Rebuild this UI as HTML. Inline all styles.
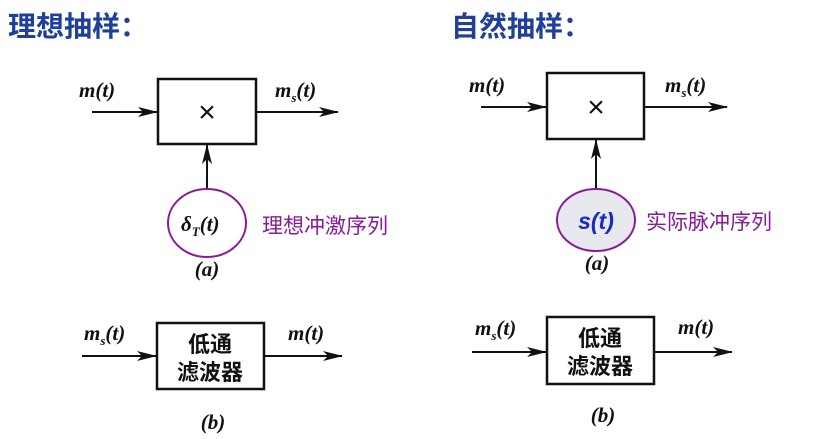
<!DOCTYPE html>
<html><head><meta charset="utf-8"><style>
html,body{margin:0;padding:0;background:#fff;width:828px;height:439px;overflow:hidden}
svg{display:block}
.t{font-family:"Liberation Serif",serif;font-style:italic;font-weight:bold;font-size:21px;fill:#111}
.cn{font-family:"Liberation Sans","Noto Sans CJK SC",sans-serif}
</style></head><body>
<svg width="828" height="439" viewBox="0 0 828 439" xmlns="http://www.w3.org/2000/svg">
<defs><marker id="ar" markerWidth="20" markerHeight="10" refX="19" refY="5" orient="auto" markerUnits="userSpaceOnUse"><path d="M0,0 L20,5 L0,10 L5,5 Z" fill="#111"/></marker></defs>
<text x="8" y="36" class="cn" font-size="28" font-weight="bold" fill="#1f3f9a">理想抽样：</text>
<text x="451" y="36" class="cn" font-size="28" font-weight="bold" fill="#1f3f9a">自然抽样：</text>
<g stroke="#111" stroke-width="2" fill="none">
<rect x="158" y="79" width="98" height="65" stroke-width="2.5"/>
<line x1="92" y1="112" x2="157" y2="112" marker-end="url(#ar)"/>
<line x1="256" y1="112" x2="338" y2="112" marker-end="url(#ar)"/>
<line x1="207" y1="200" x2="207" y2="145" marker-end="url(#ar)"/>
<rect x="547" y="73" width="97" height="66" stroke-width="2.5"/>
<line x1="481" y1="107" x2="546" y2="107" marker-end="url(#ar)"/>
<line x1="644" y1="107" x2="727" y2="107" marker-end="url(#ar)"/>
<line x1="596" y1="192" x2="596" y2="140" marker-end="url(#ar)"/>
<rect x="157" y="323" width="107" height="66" stroke-width="2.5"/>
<line x1="82" y1="356" x2="156" y2="356" marker-end="url(#ar)"/>
<line x1="264" y1="356" x2="342" y2="356" marker-end="url(#ar)"/>
<rect x="547" y="317" width="107" height="67" stroke-width="2.5"/>
<line x1="472" y1="352" x2="546" y2="352" marker-end="url(#ar)"/>
<line x1="654" y1="352" x2="732" y2="352" marker-end="url(#ar)"/>
</g>
<ellipse cx="207" cy="223" rx="39" ry="34" fill="#fff" stroke="#8a1a9a" stroke-width="2"/>
<ellipse cx="596" cy="220" rx="39" ry="31" fill="#e8e8ef" stroke="#8a1a9a" stroke-width="2"/>
<text x="207" y="122" text-anchor="middle" font-family="Liberation Sans" font-size="30" fill="#111">×</text>
<text x="596" y="117" text-anchor="middle" font-family="Liberation Sans" font-size="30" fill="#111">×</text>
<text x="79" y="97" class="t">m(t)</text>
<text x="275" y="97" class="t">m<tspan font-size="13" dy="5">s</tspan><tspan dy="-5">(t)</tspan></text>
<text x="469" y="92" class="t">m(t)</text>
<text x="665" y="92" class="t">m<tspan font-size="13" dy="5">s</tspan><tspan dy="-5">(t)</tspan></text>
<text x="181" y="231" class="t">δ<tspan font-size="13" dy="5">T</tspan><tspan dy="-5">(t)</tspan></text>
<text x="596" y="229" text-anchor="middle" font-family="Liberation Sans" font-weight="bold" font-style="italic" font-size="23" fill="#1a2bc0">s(t)</text>
<text x="262" y="233" class="cn" font-size="21" fill="#8a1a9a">理想冲激序列</text>
<text x="646" y="229" class="cn" font-size="21" fill="#8a1a9a">实际脉冲序列</text>
<text x="207" y="276" text-anchor="middle" class="t" font-weight="normal" font-size="20">(a)</text>
<text x="597" y="270" text-anchor="middle" class="t" font-weight="normal" font-size="20">(a)</text>
<text x="84" y="340" class="t">m<tspan font-size="13" dy="5">s</tspan><tspan dy="-5">(t)</tspan></text>
<text x="288" y="340" class="t">m(t)</text>
<text x="475" y="335" class="t">m<tspan font-size="13" dy="5">s</tspan><tspan dy="-5">(t)</tspan></text>
<text x="678" y="334" class="t">m(t)</text>
<text x="210" y="352" text-anchor="middle" class="cn" font-size="22" font-weight="bold" fill="#111">低通</text>
<text x="210" y="380" text-anchor="middle" class="cn" font-size="22" font-weight="bold" fill="#111">滤波器</text>
<text x="600" y="346" text-anchor="middle" class="cn" font-size="22" font-weight="bold" fill="#111">低通</text>
<text x="600" y="374" text-anchor="middle" class="cn" font-size="22" font-weight="bold" fill="#111">滤波器</text>
<text x="213" y="429" text-anchor="middle" class="t" font-size="20">(b)</text>
<text x="603" y="422" text-anchor="middle" class="t" font-size="20">(b)</text>
</svg>
</body></html>
